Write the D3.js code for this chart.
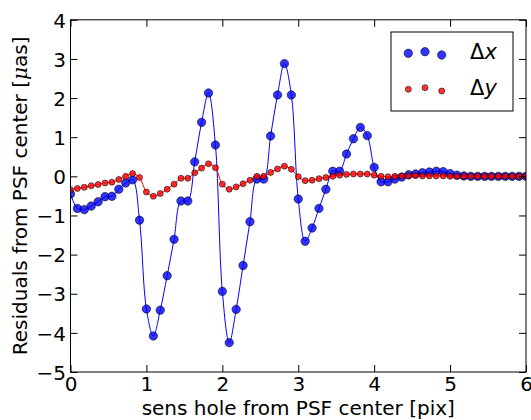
<!DOCTYPE html>
<html>
<head>
<meta charset="utf-8">
<script src="https://cdn.jsdelivr.net/npm/d3@7"></script>
<style>
  html, body { margin: 0; padding: 0; background: #fff; }
  svg { display: block; }
  text { font-family: "DejaVu Sans", sans-serif; }
</style>
</head>
<body>
<svg id="chart" width="531" height="420"></svg>
<script>
// ---- data ----
const xPos = [0, 0.091, 0.182, 0.273, 0.364, 0.455, 0.545, 0.636, 0.727, 0.818, 0.909,
  1, 1.091, 1.182, 1.273, 1.364, 1.455, 1.545, 1.636, 1.727, 1.818, 1.909,
  2, 2.091, 2.182, 2.273, 2.364, 2.455, 2.545, 2.636, 2.727, 2.818, 2.909,
  3, 3.091, 3.182, 3.273, 3.364, 3.455, 3.545, 3.636, 3.727, 3.818, 3.909,
  4, 4.091, 4.182, 4.273, 4.364, 4.455, 4.545, 4.636, 4.727, 4.818, 4.909,
  5, 5.091, 5.182, 5.273, 5.364, 5.455, 5.545, 5.636, 5.727, 5.818, 5.909, 6];
const dx = [-0.45, -0.82, -0.85, -0.76, -0.65, -0.52, -0.51, -0.33, -0.17, -0.09, -1.12,
  -3.39, -4.08, -3.42, -2.54, -1.61, -0.63, -0.63, 0.37, 1.38, 2.13, 0.80,
  -2.94, -4.25, -3.40, -2.28, -1.16, -0.07, -0.07, 1.03, 2.08, 2.88, 2.08,
  -0.58, -1.66, -1.32, -0.82, -0.33, 0.13, 0.13, 0.57, 0.96, 1.25, 1.04,
  0.23, -0.14, -0.14, -0.07, -0.02, 0.04, 0.06, 0.09, 0.11, 0.13, 0.12,
  0.07, 0.03, 0.01, 0.0, 0.0, 0.0, 0.0, 0.0, 0.0, 0.0, 0.0, 0.0];
const dy = [-0.34, -0.31, -0.28, -0.24, -0.21, -0.17, -0.15, -0.08, 0.0, 0.07, -0.03,
  -0.40, -0.51, -0.44, -0.33, -0.20, -0.05, -0.05, 0.09, 0.21, 0.32, 0.22,
  -0.20, -0.33, -0.27, -0.19, -0.10, 0.0, 0.0, 0.10, 0.19, 0.26, 0.18,
  -0.01, -0.11, -0.10, -0.06, -0.03, 0.0, 0.03, 0.05, 0.06, 0.06, 0.06,
  0.03, 0.0, -0.01, 0.0, 0.01, 0.01, 0.02, 0.01, 0.01, 0.01, 0.01,
  0.0, 0.0, 0.0, 0.0, 0.0, 0.0, 0.0, 0.0, 0.0, 0.0, 0.0, 0.0];
const xTicks = [0, 1, 2, 3, 4, 5, 6];
const yTicks = [-5, -4, -3, -2, -1, 0, 1, 2, 3, 4];
const seriesNames = ["Δx", "Δy"];

// ---- layout ----
const L = 70.5, R = 526, T = 19.8, B = 372;
const svg = d3.select("#chart");
const x = d3.scaleLinear().domain([0, 6]).range([L, R]);
const y = d3.scaleLinear().domain([-5, 4]).range([B, T]);

svg.append("defs").append("clipPath").attr("id", "plotclip")
  .append("rect").attr("x", L).attr("y", T).attr("width", R - L).attr("height", B - T);

const plot = svg.append("g").attr("clip-path", "url(#plotclip)");

const series = [
  { name: seriesNames[0], vals: dx, color: "#0000ff", r: 4.2 },
  { name: seriesNames[1], vals: dy, color: "#ff0000", r: 3.0 }
];

const line = d3.line().curve(d3.curveCatmullRom.alpha(0.5));
series.forEach(s => {
  const pts = xPos.map((xv, i) => [x(xv), y(s.vals[i])]);
  plot.append("path").attr("d", line(pts))
    .attr("fill", "none").attr("stroke", s.color).attr("stroke-width", 1);
  plot.append("g").selectAll("circle").data(pts).join("circle")
    .attr("cx", d => d[0]).attr("cy", d => d[1]).attr("r", s.r)
    .attr("fill", s.color).attr("fill-opacity", 0.8)
    .attr("stroke", "#000").attr("stroke-opacity", 0.55).attr("stroke-width", 1);
});

// ---- axes ----
const fmt = d3.format("d");
const ax = svg.append("g").attr("font-size", 20);
const gB = ax.append("g").attr("transform", `translate(0,${B})`)
  .call(d3.axisBottom(x).tickValues(xTicks).tickFormat(fmt).tickSizeInner(-7).tickSizeOuter(0).tickPadding(5));
const gT = ax.append("g").attr("transform", `translate(0,${T})`)
  .call(d3.axisTop(x).tickValues(xTicks).tickFormat("").tickSizeInner(-7).tickSizeOuter(0));
const gL = ax.append("g").attr("transform", `translate(${L},0)`)
  .call(d3.axisLeft(y).tickValues(yTicks).tickFormat(fmt).tickSizeInner(-7).tickSizeOuter(0).tickPadding(4.5));
const gR = ax.append("g").attr("transform", `translate(${R},0)`)
  .call(d3.axisRight(y).tickValues(yTicks).tickFormat("").tickSizeInner(-7).tickSizeOuter(0));
[gB, gT, gL, gR].forEach(g => {
  g.select(".domain").remove();
  g.selectAll(".tick line").attr("stroke", "#000").attr("stroke-width", 1);
  g.selectAll(".tick text").attr("fill", "#000").attr("font-family", "DejaVu Sans").attr("font-size", 20);
});
gL.selectAll(".tick text").attr("dy", "0.36em");

svg.append("rect").attr("x", L).attr("y", T).attr("width", R - L).attr("height", B - T)
  .attr("fill", "none").attr("stroke", "#000").attr("stroke-width", 1);

// axis titles
svg.append("text").attr("x", (L + R) / 2).attr("y", 415).attr("text-anchor", "middle")
  .attr("font-size", 20).attr("fill", "#000").text("sens hole from PSF center [pix]");
const yl = svg.append("text").attr("transform", `translate(27,${(T + B) / 2}) rotate(-90)`)
  .attr("text-anchor", "middle").attr("font-size", 20).attr("fill", "#000");
yl.append("tspan").text("Residuals from PSF center [");
yl.append("tspan").attr("font-family", "DejaVu Serif").attr("font-style", "italic").text("μ");
yl.append("tspan").text("as]");

// ---- legend ----
const lg = svg.append("g");
lg.append("rect").attr("x", 391).attr("y", 32).attr("width", 122).attr("height", 79)
  .attr("fill", "#fff").attr("stroke", "#000").attr("stroke-width", 1);
const offs = [[408.3, 1.3], [425, -0.3], [441.7, 3]];
series.forEach((s, i) => {
  const cy = i === 0 ? 52 : 88;
  offs.forEach(o => {
    lg.append("circle").attr("cx", o[0]).attr("cy", cy + o[1]).attr("r", s.r)
      .attr("fill", s.color).attr("fill-opacity", 0.8)
      .attr("stroke", "#000").attr("stroke-opacity", 0.55).attr("stroke-width", 1);
  });
  const t = lg.append("text").attr("x", 470).attr("y", cy + 7).attr("font-size", 21)
    .attr("font-family", "DejaVu Serif").attr("fill", "#000");
  t.append("tspan").text(s.name[0]);
  t.append("tspan").attr("font-style", "italic").text(s.name.slice(1));
});
</script>
</body>
</html>
